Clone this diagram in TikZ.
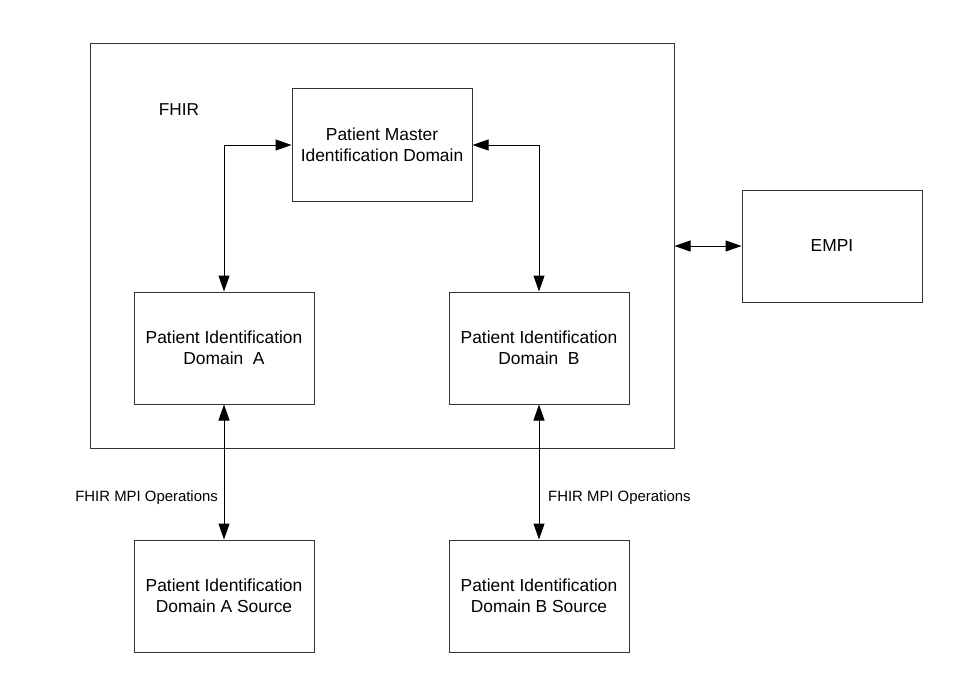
\documentclass[tikz,border=0pt]{standalone}
\usepackage{fontspec}
\setmainfont{Liberation Sans}
\usetikzlibrary{arrows.meta}
\begin{document}
\begin{tikzpicture}[x=1pt,y=-1pt,
  box/.style={draw=black!80,line width=1pt,minimum width=180pt,minimum height=112pt,inner sep=0pt,align=center,font=\fontsize{17.4}{21.5}\selectfont},
  conn/.style={line width=1pt,{Triangle[length=16pt,width=11pt]}-{Triangle[length=16pt,width=11pt]}},
  lbl/.style={font=\fontsize{14.9}{17}\selectfont,inner sep=0pt}]
\useasboundingbox (0,0) rectangle (968,698);
\node[draw=black!80,line width=1pt,minimum width=584pt,minimum height=404pt,inner sep=0pt] (fhir) at (382,246) {};
\node[font=\fontsize{17.2}{20}\selectfont,inner sep=0pt] (fhirlbl) at (179,110) {FHIR};
\node[box] (master) at (382,145) {Patient Master\\Identification Domain};
\node[box] (a) at (224,348) {Patient Identification\\Domain\ \ A};
\node[box] (b) at (539,348) {Patient Identification\\Domain\ \ B};
\node[box] (empi) at (832,246) {EMPI};
\node[box] (as) at (224,596) {Patient Identification\\Domain A Source};
\node[box] (bs) at (539,596) {Patient Identification\\Domain B Source};
\draw[conn] (a.north) |- (master.west);
\draw[conn] (b.north) |- (master.east);
\draw[conn] (fhir.east) -- (empi.west);
\draw[conn] (a.south) -- (as.north);
\draw[conn] (b.south) -- (bs.north);
\node[lbl,anchor=east] (la) at (218,498) {FHIR MPI Operations};
\node[lbl,anchor=west] (lb) at (548,498) {FHIR MPI Operations};
\end{tikzpicture}
\end{document}
